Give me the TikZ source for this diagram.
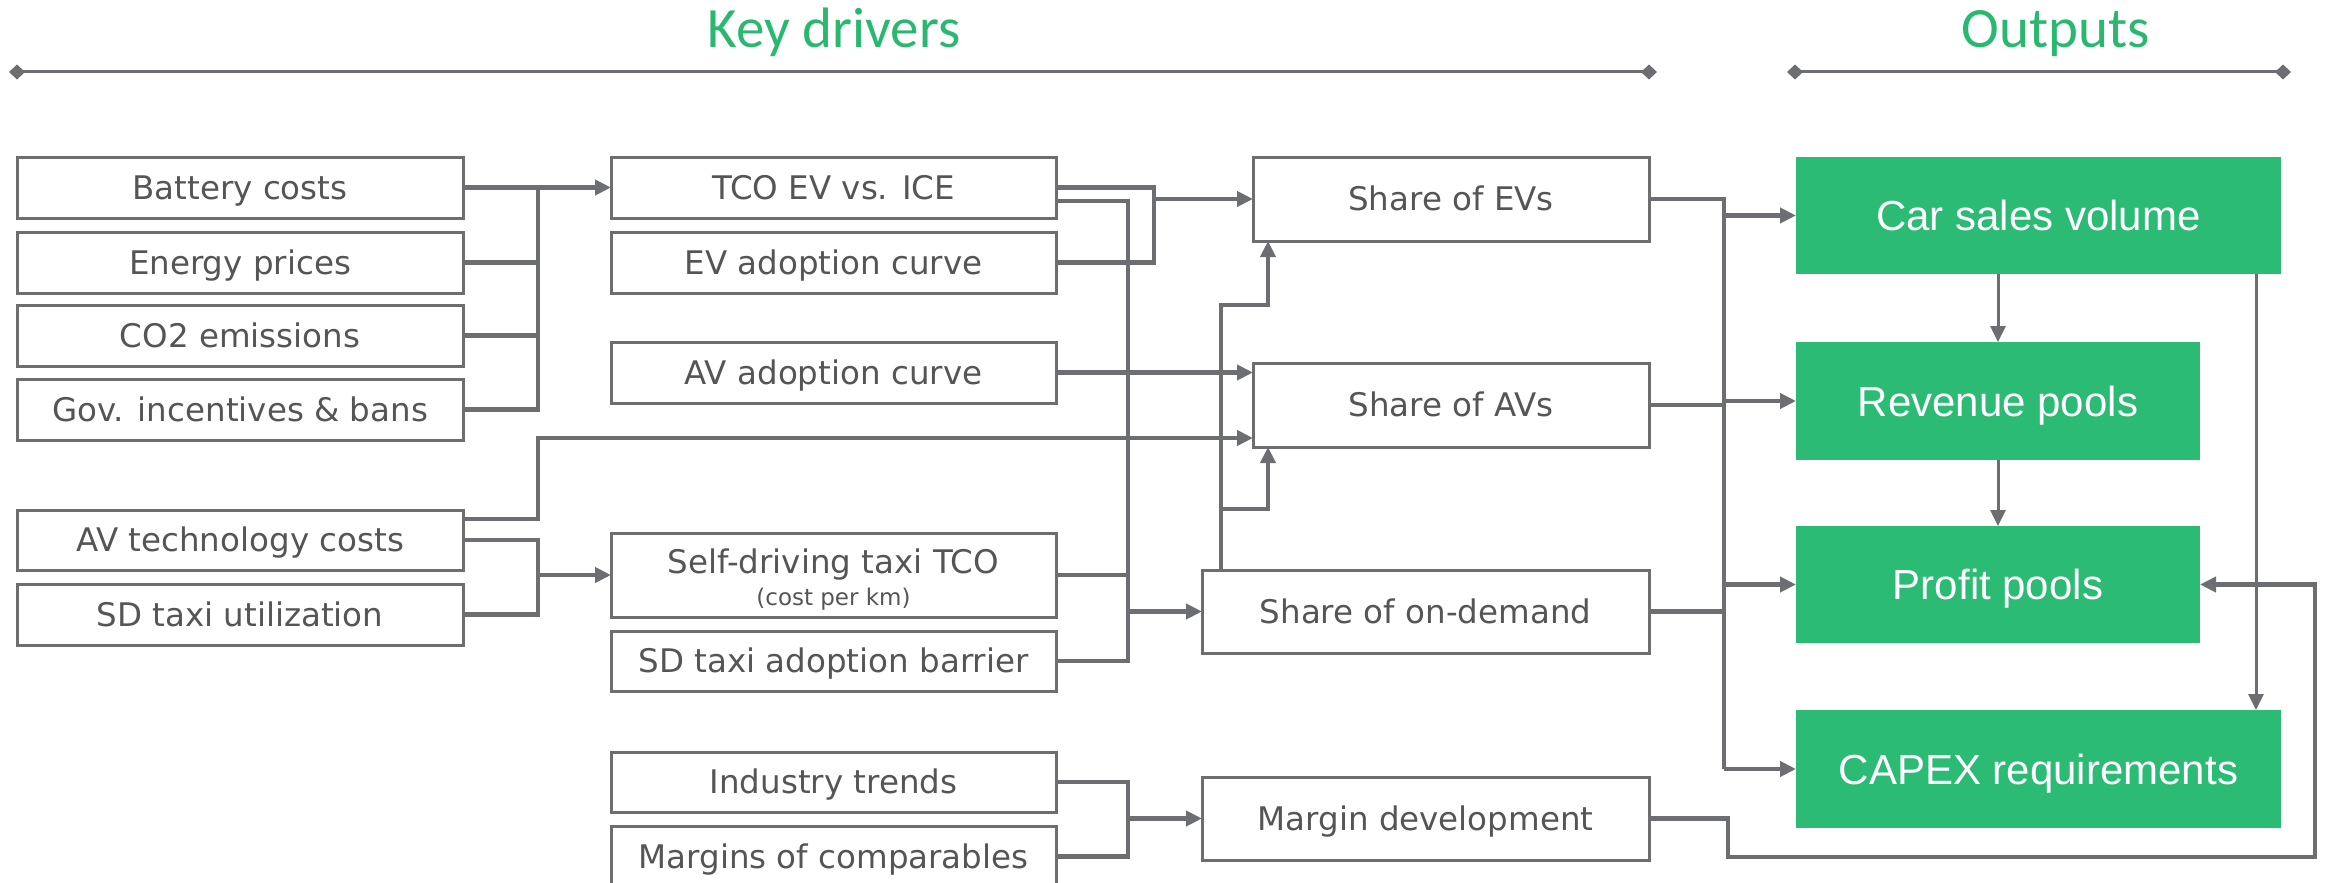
\documentclass[tikz,border=0pt]{standalone}
\usepackage{fontspec}
\usetikzlibrary{arrows.meta,calc}
\newfontfamily\boxfont{DejaVu Sans}
\newfontfamily\outfont{Liberation Sans}
\newfontfamily\headfont{Carlito}
\definecolor{linegray}{HTML}{6D6E71}
\definecolor{framegray}{HTML}{6E6E6E}
\definecolor{txtgray}{HTML}{555555}
\definecolor{outgreen}{HTML}{2BBB74}
\definecolor{headgreen}{HTML}{2AB870}
\tikzset{
  dbox/.style={draw=framegray, line width=3pt, fill=white, text=txtgray,
    inner sep=0pt, outer sep=0pt, minimum width=445pt,
    font=\boxfont\fontsize{32.5pt}{38pt}\selectfont,
    text height=23.7pt, text depth=0pt},
  gbox/.style={fill=outgreen, draw=none, text=white, inner sep=0pt, outer sep=0pt,
    font=\outfont\fontsize{42pt}{48pt}\selectfont,
    text height=30pt, text depth=0pt},
  conn/.style={draw=linegray, line width=4.2pt},
  thinconn/.style={draw=linegray, line width=3pt},
  arr/.style={-{Triangle[length=16pt,width=15pt]}},
  hdr/.style={draw=linegray, line width=3pt,
    {Diamond[length=16pt,width=15pt]}-{Diamond[length=16pt,width=15pt]}},
  headtxt/.style={text=headgreen, font=\headfont\fontsize{57pt}{62pt}\selectfont,
    anchor=base, inner sep=0pt}
}
\begin{document}
\begin{tikzpicture}[x=1pt,y=-1pt]
\useasboundingbox (0,0) rectangle (2326,883);

% section headings
\node[headtxt] (kd) at (834,48) {Key drivers};
\node[headtxt] (op) at (2056,48) {Outputs};
\coordinate (kdl) at (9,72);
\coordinate (kdr) at (1657,72);
\coordinate (opl) at (1787,72);
\coordinate (opr) at (2291,72);
\draw[hdr] (kdl) -- (kdr);
\draw[hdr] (opl) -- (opr);

% first column of drivers
\node[dbox, minimum width=446pt, minimum height=61pt] (b1) at (240,187.5) {Battery costs};
\node[dbox, minimum width=446pt, minimum height=61pt] (b2) at (240,262.5) {Energy prices};
\node[dbox, minimum width=446pt, minimum height=61pt] (b3) at (240,335.5) {CO2 emissions};
\node[dbox, minimum width=446pt, minimum height=61pt] (b4) at (240,409.5) {Gov. incentives \& bans};
\node[dbox, minimum width=446pt, minimum height=60pt] (b5) at (240,540) {AV technology costs};
\node[dbox, minimum width=446pt, minimum height=61pt] (b6) at (240,614.5) {SD taxi utilization};

% second column of drivers
\node[dbox, minimum height=61pt] (c1) at (833.5,187.5) {TCO EV vs. ICE};
\node[dbox, minimum height=61pt] (c2) at (833.5,262.5) {EV adoption curve};
\node[dbox, minimum height=61pt] (c3) at (833.5,372.5) {AV adoption curve};
\node[dbox, minimum height=84pt] (c4) at (833.5,575) {};
\node[text=txtgray, font=\boxfont\fontsize{32.5pt}{38pt}\selectfont, anchor=base, inner sep=0pt] (c4a) at (833.5,573) {Self-driving taxi TCO};
\node[text=txtgray, font=\boxfont\fontsize{23pt}{27pt}\selectfont, anchor=base, inner sep=0pt] (c4b) at (833.5,605) {(cost per km)};
\node[dbox, minimum height=60pt] (c5) at (833.5,661) {SD taxi adoption barrier};
\node[dbox, minimum height=60pt] (c6) at (833.5,782) {Industry trends};
\node[dbox, minimum height=61pt] (c7) at (833.5,856.5) {Margins of comparables};

% intermediate shares
\node[dbox, minimum width=396pt, minimum height=84pt] (d1) at (1451,199) {Share of EVs};
\node[dbox, minimum width=396pt, minimum height=84pt] (d2) at (1451,405) {Share of AVs};
\node[dbox, minimum width=447pt, minimum height=83pt] (d3) at (1425.5,611.5) {Share of on-demand};
\node[dbox, minimum width=447pt, minimum height=83pt] (d4) at (1425.5,818.5) {Margin development};

% outputs
\node[gbox, minimum width=485pt, minimum height=117pt] (e1) at (2038.5,215.5) {Car sales volume};
\node[gbox, minimum width=404pt, minimum height=118pt] (e2) at (1998,401) {Revenue pools};
\node[gbox, minimum width=404pt, minimum height=117pt] (e3) at (1998,584.5) {Profit pools};
\node[gbox, minimum width=485pt, minimum height=118pt] (e4) at (2038.5,769) {CAPEX requirements};

% junction columns
\coordinate (ja) at (538,0);
\coordinate (jb) at (1128,0);
\coordinate (jev) at (1154,0);
\coordinate (ka) at (1221,0);
\coordinate (kb) at (1268,0);
\coordinate (jc) at (1724,0);
\coordinate (jd) at (2256,0);
\coordinate (k1) at (1221,305);
\coordinate (k2) at (1221,509);
\coordinate (m1) at (1728,857);
\coordinate (m2) at (2315,857);
\coordinate (b5hi) at ($(b5.east)+(0,-21)$);
\coordinate (d2lo) at ($(d2.west)+(0,33)$);
\coordinate (c1lo) at ($(c1.east)+(0,13.5)$);

% cost drivers into TCO EV vs. ICE
\draw[conn] (b4.east) -| (ja |- b1.east);
\draw[conn] (b2.east) -- (ja |- b2.east);
\draw[conn] (b3.east) -- (ja |- b3.east);
\draw[conn,arr] (b1.east) -- (c1.west);

% EV drivers into share of EVs
\draw[conn] (c1.east) -| (jev |- c2.east) -- (c2.east);
\draw[conn,arr] (jev |- d1.west) -- (d1.west);

% AV drivers into share of AVs
\draw[conn,arr] (c3.east) -- (c3.east -| d2.west);
\draw[conn,arr] (b5hi) -| (ja |- d2lo) -- (d2lo);

% taxi cost drivers into self-driving taxi TCO
\draw[conn] (b5.east) -| (ja |- c4.west);
\draw[conn] (b6.east) -| (ja |- c4.west);
\draw[conn,arr] (ja |- c4.west) -- (c4.west);

% on-demand drivers
\draw[conn] (c1lo) -| (jb |- c5.east) -- (c5.east);
\draw[conn] (c4.east) -- (jb |- c4.east);
\draw[conn,arr] (jb |- d3.west) -- (d3.west);

% on-demand feeding back into EV and AV shares
\draw[conn,arr] (ka |- d3.north) -- (k1) -| (kb |- d1.south);
\draw[conn,arr] (k2) -| (kb |- d2.south);

% margin drivers
\draw[conn] (c6.east) -| (jb |- c7.east) -- (c7.east);
\draw[conn,arr] (jb |- d4.west) -- (d4.west);

% shares into outputs
\draw[conn] (d1.east) -| (jc |- e4.west);
\draw[conn] (d2.east) -- (jc |- d2.east);
\draw[conn] (d3.east) -- (jc |- d3.east);
\foreach \n in {e1,e2,e3,e4} \draw[conn,arr] (jc |- \n.west) -- (\n.west);

% links between outputs
\draw[thinconn,arr] (e2.north |- e1.south) -- (e2.north);
\draw[thinconn,arr] (e2.south) -- (e3.north);
\draw[thinconn,arr] (jd |- e1.south) -- (jd |- e4.north);

% margin development into profit pools
\draw[conn,arr] (d4.east) -| (m1) -- (m2) |- (e3.east);
\end{tikzpicture}
\end{document}
